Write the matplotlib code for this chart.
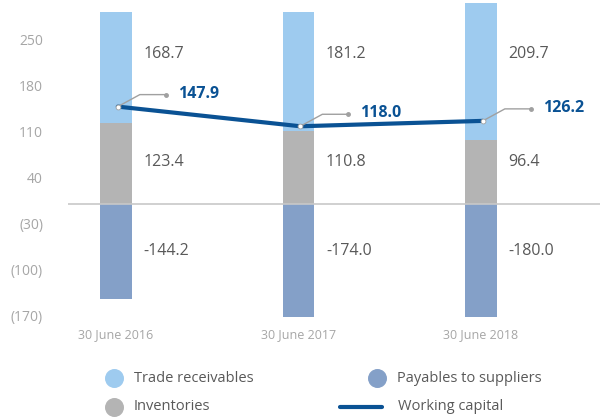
import numpy as np
import matplotlib
matplotlib.use("Agg")
import matplotlib.pyplot as plt

plt.rcParams['font.family'] = ['Open Sans', 'DejaVu Sans']

dates = ["30 June 2016", "30 June 2017", "30 June 2018"]
receivables = [168.7, 181.2, 209.7]
inventories = [123.4, 110.8, 96.4]
payables = [-144.2, -174.0, -180.0]
working_capital = [147.9, 118.0, 126.2]
yticks = [250, 180, 110, 40, -30, -100, -170]
ytick_labels = ["250", "180", "110", "40", "(30)", "(100)", "(170)"]

c_recv = "#9ecbef"
c_inv = "#b4b4b4"
c_pay = "#84a0c8"
c_line = "#0a5294"
c_text = "#595959"
c_tick = "#a6a6a6"
c_lead = "#a0a0a0"

fig = plt.figure(figsize=(6, 4.18), dpi=100)
ax = fig.add_axes([68 / 600, 1 - 317 / 418, 1 - 68 / 600, 317 / 418])
ax.set_xlim(-0.263, 2.652)
ax.set_ylim(-172, 310)

# pixel -> data unit factors (axes geometry is fixed)
kx = (2.652 + 0.263) / 532
ky = (310 + 172) / 317

x = np.arange(len(dates))
w = 0.175
ax.bar(x, inventories, w, color=c_inv, zorder=2)
ax.bar(x, receivables, w, bottom=inventories, color=c_recv, zorder=2)
ax.bar(x, payables, w, color=c_pay, zorder=2)
ax.axhline(0, color="#c8c8c8", lw=1.2, zorder=3)

xl = x + 0.01
ax.plot(xl, working_capital, color=c_line, lw=3, solid_capstyle="round", zorder=4)

for i in range(len(dates)):
    ax.text(x[i] + 0.15, 228, f"{receivables[i]:.1f}", color=c_text, fontsize=11.5, va="center")
    ax.text(x[i] + 0.15, 63, f"{inventories[i]:.1f}", color=c_text, fontsize=11.5, va="center")
    ax.text(x[i] + 0.15, -72, f"{payables[i]:.1f}", color=c_text, fontsize=11.5, va="center")

    px, py = xl[i], working_capital[i]
    lx = [px, px + 22 * kx, px + 48 * kx]
    ly = [py, py + 12 * ky, py + 12 * ky]
    ax.plot(lx, ly, color=c_lead, lw=1, zorder=5)
    ax.plot(lx[-1], ly[-1], marker="o", ms=2.5, color=c_lead, zorder=6)
    ax.plot(px, py, marker="o", ms=3.5, mfc="white", mec=c_lead, mew=0.6, zorder=6)
    ax.text(px + 60 * kx, py + 13 * ky, f"{working_capital[i]:.1f}", color=c_line,
            fontsize=11.5, fontweight="bold", va="center", ha="left")

ax.set_yticks(yticks)
ax.set_yticklabels(ytick_labels)
ax.set_xticks(x)
ax.set_xticklabels(dates)
ax.tick_params(axis="y", length=0, pad=18, labelsize=10, labelcolor=c_tick)
ax.tick_params(axis="x", length=0, pad=8, labelsize=9, labelcolor=c_tick)
for s in ax.spines.values():
    s.set_visible(False)

# legend, drawn in pixel space
lg = fig.add_axes([0, 0, 1, 1], facecolor="none")
lg.set_xlim(0, 600)
lg.set_ylim(418, 0)
lg.axis("off")
lg.scatter([114], [378], s=160, color=c_recv)
lg.text(134, 378, "Trade receivables", color=c_text, fontsize=10.5, va="center")
lg.scatter([114], [407], s=160, color=c_inv)
lg.text(134, 407, "Inventories", color=c_text, fontsize=10.5, va="center")
lg.scatter([377], [378], s=160, color=c_pay)
lg.text(397, 378, "Payables to suppliers", color=c_text, fontsize=10.5, va="center")
lg.plot([340, 382], [407, 407], color=c_line, lw=3, solid_capstyle="round")
lg.text(398, 407, "Working capital", color=c_text, fontsize=10.5, va="center")

fig.savefig("out.png", dpi=100)
